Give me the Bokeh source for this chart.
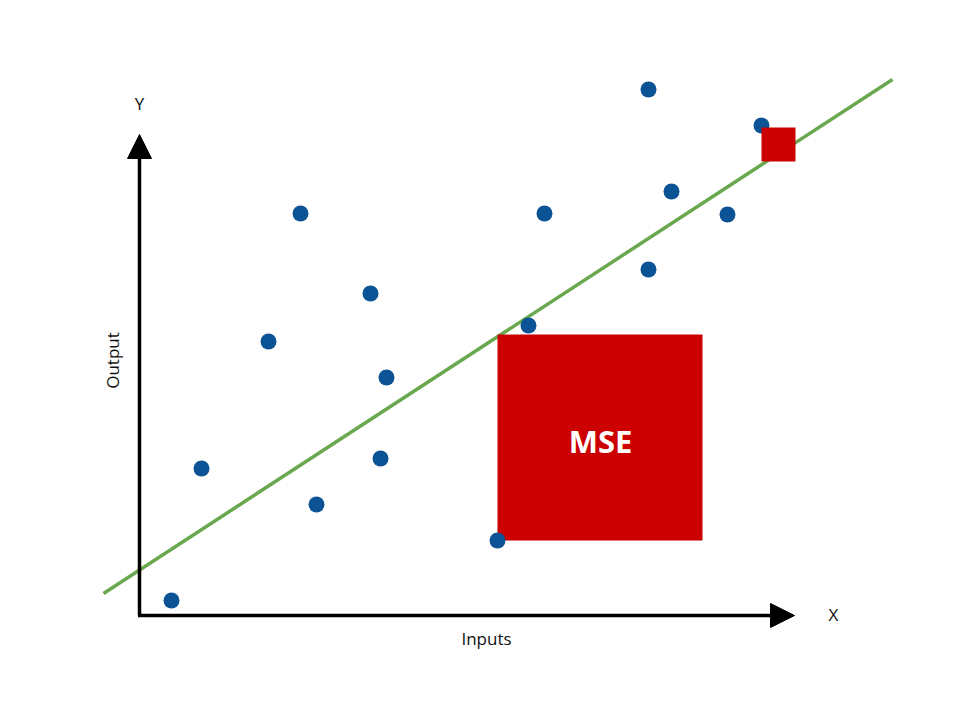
from bokeh.plotting import figure
from bokeh.models import Range1d, Arrow, NormalHead, Label
from bokeh.embed import file_html
from bokeh.resources import INLINE

# scatter of observations (x = input, y = output), origin at the axes corner
xs = [32, 62, 129, 161, 177, 231, 247, 241, 358, 389, 405, 509, 509, 532, 588, 622]
ys = [15, 147, 274, 402, 111, 322, 238, 157, 75, 290, 402, 526, 346, 424, 401, 490]

# fitted line
fit_x = [-36, 753]
fit_y = [22, 536]

# squared-error boxes: big one labelled MSE, small one at the top right
mse_box = dict(left=[358], right=[563], bottom=[75], top=[281])
err_box = dict(left=[622], right=[656], bottom=[454], top=[488])

FONT = "Open Sans"
RED = "#cc0000"

p = figure(width=944, height=704, output_backend="svg", toolbar_location=None,
           x_range=Range1d(-139, 805), y_range=Range1d(-89, 615),
           min_border=0, outline_line_color=None)
p.axis.visible = False
p.grid.visible = False

# axes drawn as arrows
p.add_layout(Arrow(end=NormalHead(size=24, fill_color="black", line_color="black"),
                   x_start=0, y_start=0, x_end=0, y_end=481,
                   line_width=3.5, line_color="black"))
p.add_layout(Arrow(end=NormalHead(size=24, fill_color="black", line_color="black"),
                   x_start=-1.5, y_start=0, x_end=655, y_end=0,
                   line_width=3.5, line_color="black"))

p.line(fit_x, fit_y, line_color="#6aa84f", line_width=3.5)
p.quad(**mse_box, fill_color=RED, line_color=None)
p.scatter(xs, ys, size=16, fill_color="#0b5394", line_color=None)
p.quad(**err_box, fill_color=RED, line_color=None)

p.add_layout(Label(x=0, y=512, text="Y", text_font=FONT, text_font_size="17px",
                   text_align="center", text_baseline="middle", text_color="#111111"))
p.add_layout(Label(x=694, y=1, text="X", text_font=FONT, text_font_size="17px",
                   text_align="center", text_baseline="middle", text_color="#111111"))
p.add_layout(Label(x=347, y=-23, text="Inputs", text_font=FONT, text_font_size="17px",
                   text_align="center", text_baseline="middle", text_color="#111111"))
p.add_layout(Label(x=-27, y=255, text="Output", text_font=FONT, text_font_size="17px",
                   text_align="center", text_baseline="middle", angle=1.5708,
                   text_color="#111111"))
p.add_layout(Label(x=461, y=175, text="MSE", text_font=FONT, text_font_size="31px",
                   text_font_style="bold", text_align="center", text_baseline="middle",
                   text_color="white"))

open("out.html", "w").write(file_html(p, INLINE))
